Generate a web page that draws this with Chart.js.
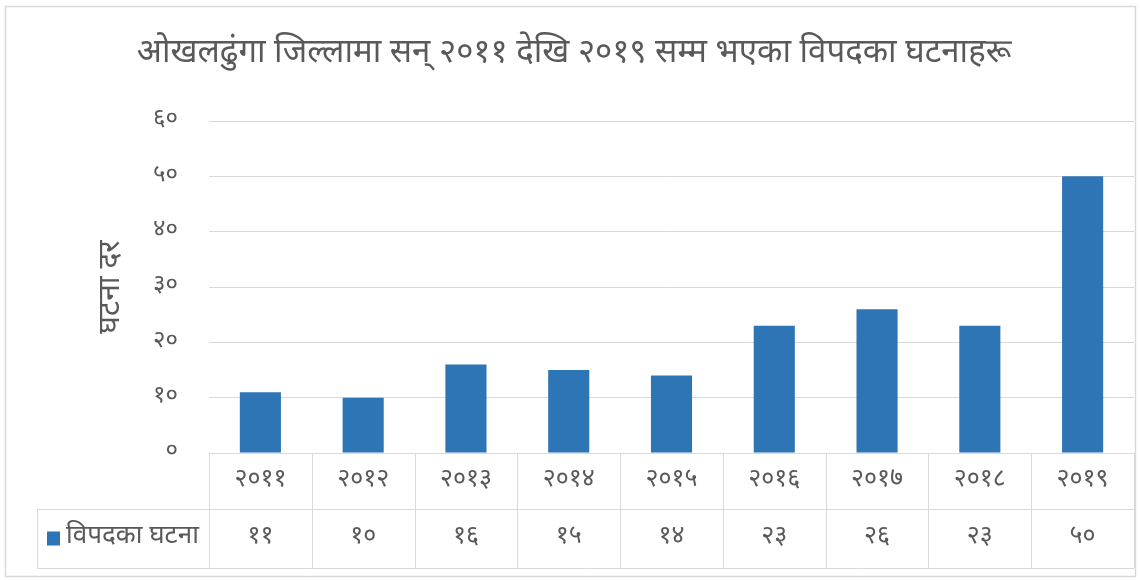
<!DOCTYPE html>
<html>
<head>
<meta charset="utf-8">
<title>ओखलढुंगा जिल्लामा विपदका घटनाहरू</title>
<script src="https://cdn.jsdelivr.net/npm/chart.js"></script>
<style>
    html, body { margin: 0; padding: 0; background: #ffffff; }
    canvas { display: block; }
</style>
</head>
<body>
<canvas id="disasterChart" width="1140" height="580"></canvas>
<script>
// chart data
const chartTitle = 'ओखलढुंगा जिल्लामा सन् २०११ देखि २०१९ सम्म भएका विपदका घटनाहरू';
const yAxisTitle = 'घटना दर';
const seriesName = 'विपदका घटना';
const years = ['२०११', '२०१२', '२०१३', '२०१४', '२०१५', '२०१६', '२०१७', '२०१८', '२०१९'];
const incidents = [11, 10, 16, 15, 14, 23, 26, 23, 50];

const FONT = '"Noto Sans Devanagari", "Lohit Devanagari", "Mukta", "Noto Sans", sans-serif';
const TEXT_COLOR = '#595959';
const LINE_COLOR = '#d9d9d9';
const BAR_COLOR = '#2e75b6';

// convert western digits to Devanagari
function toNepaliDigits(n) {
    const digits = '०१२३४५६७८९';
    return String(n).replace(/[0-9]/g, d => digits[d]);
}

// draws frame, title and the data table under the plot
const tablePlugin = {
    id: 'dataTable',
    afterDraw(chart) {
        const ctx = chart.ctx;
        const xScale = chart.scales.x;
        const area = chart.chartArea;
        const colW = (area.right - area.left) / years.length;
        const row1Top = area.bottom;
        const row1Bottom = 509;
        const row2Bottom = 568;
        const legendLeft = 37;

        ctx.save();
        // outer frame
        ctx.strokeStyle = LINE_COLOR;
        ctx.lineWidth = 1.5;
        ctx.strokeRect(5.5, 6.5, 1130, 570);

        // title
        ctx.fillStyle = TEXT_COLOR;
        ctx.font = '33px ' + FONT;
        ctx.textAlign = 'center';
        ctx.textBaseline = 'middle';
        ctx.fillText(chartTitle, 574, 56);

        // table grid
        ctx.lineWidth = 1;
        ctx.strokeStyle = LINE_COLOR;
        ctx.beginPath();
        ctx.moveTo(area.left, row1Top + 0.5);
        ctx.lineTo(area.right, row1Top + 0.5);
        ctx.moveTo(legendLeft, row1Bottom + 0.5);
        ctx.lineTo(area.right, row1Bottom + 0.5);
        ctx.moveTo(legendLeft, row2Bottom + 0.5);
        ctx.lineTo(area.right, row2Bottom + 0.5);
        ctx.moveTo(legendLeft + 0.5, row1Bottom);
        ctx.lineTo(legendLeft + 0.5, row2Bottom);
        for (let i = 0; i <= years.length; i++) {
            const x = Math.round(area.left + i * colW) + 0.5;
            ctx.moveTo(x, row1Top);
            ctx.lineTo(x, row2Bottom);
        }
        ctx.stroke();

        // cell texts
        ctx.fillStyle = TEXT_COLOR;
        ctx.font = '25px ' + FONT;
        ctx.textAlign = 'center';
        years.forEach((label, i) => {
            const x = xScale.getPixelForValue(i);
            ctx.fillText(label, x, (row1Top + row1Bottom) / 2);
            ctx.fillText(toNepaliDigits(incidents[i]), x, (row1Bottom + row2Bottom) / 2);
        });

        // legend key
        const midY = (row1Bottom + row2Bottom) / 2;
        ctx.fillStyle = BAR_COLOR;
        ctx.fillRect(47, midY - 7, 13, 14);
        ctx.fillStyle = TEXT_COLOR;
        ctx.textAlign = 'left';
        ctx.font = '26px ' + FONT;
        ctx.fillText(seriesName, 66, midY);
        ctx.restore();
    }
};

new Chart(document.getElementById('disasterChart'), {
    type: 'bar',
    data: {
        labels: years,
        datasets: [{
            label: seriesName,
            data: incidents,
            backgroundColor: BAR_COLOR,
            barPercentage: 0.8,
            categoryPercentage: 0.5
        }]
    },
    options: {
        responsive: false,
        animation: false,
        layout: {
            padding: { left: 95, right: 6, top: 121, bottom: 127 }
        },
        plugins: {
            legend: { display: false },
            title: { display: false },
            tooltip: { enabled: false }
        },
        scales: {
            x: {
                display: false
            },
            y: {
                min: 0,
                max: 60,
                ticks: {
                    stepSize: 10,
                    padding: 31,
                    color: TEXT_COLOR,
                    font: { family: FONT, size: 24 },
                    callback: v => toNepaliDigits(v)
                },
                grid: { color: LINE_COLOR, lineWidth: 1, drawTicks: false },
                border: { display: false },
                title: {
                    display: true,
                    text: yAxisTitle,
                    color: TEXT_COLOR,
                    font: { family: FONT, size: 30 },
                    padding: 0
                },
                afterFit(scale) {
                    scale.width = 114;
                }
            }
        }
    },
    plugins: [tablePlugin]
});
</script>
</body>
</html>
